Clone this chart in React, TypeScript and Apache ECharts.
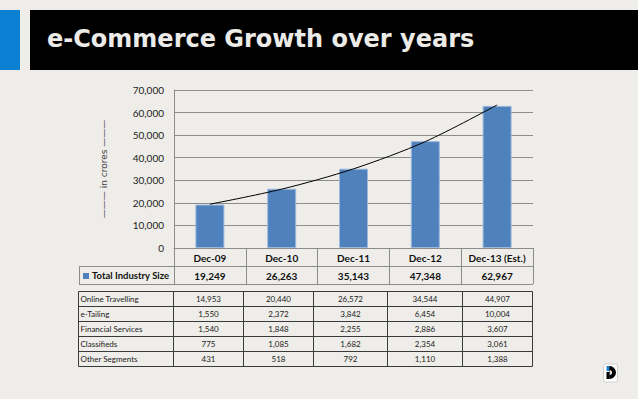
import React, { useEffect, useRef } from "react";
import * as echarts from "echarts";

const categories = ["Dec-09", "Dec-10", "Dec-11", "Dec-12", "Dec-13 (Est.)"];
const totalIndustry = [19249, 26263, 35143, 47348, 62967];
const seriesLabel = "Total Industry Size";
const segmentNames = ["Online Travelling", "e-Tailing", "Financial Services", "Classifieds", "Other Segments"];
const onlineTravelling = [14953, 20440, 26572, 34544, 44907];
const eTailing = [1550, 2372, 3842, 6454, 10004];
const financialServices = [1540, 1848, 2255, 2886, 3607];
const classifieds = [775, 1085, 1682, 2354, 3061];
const otherSegments = [431, 518, 792, 1110, 1388];
const segmentValues = [onlineTravelling, eTailing, financialServices, classifieds, otherSegments];
const yMin = 0;
const yMax = 70000;
const yInterval = 10000;
const titleText = "e-Commerce Growth over years";
const yAxisName = "——— in crores ———";

// exponential trendline fitted to the total industry values (like Excel's trendline)
function expTrend(vals: number[]): number[] {
  const n = vals.length;
  const xs = vals.map((_, i) => i);
  const ls = vals.map((v) => Math.log(v));
  const mx = xs.reduce((a, b) => a + b, 0) / n;
  const ml = ls.reduce((a, b) => a + b, 0) / n;
  let num = 0, den = 0;
  for (let i = 0; i < n; i++) {
    num += (xs[i] - mx) * (ls[i] - ml);
    den += (xs[i] - mx) * (xs[i] - mx);
  }
  const b = num / den;
  const a = ml - b * mx;
  return xs.map((x) => Math.exp(a + b * x));
}

const fmt = (v: number) => v.toLocaleString("en-US");
const FONT = "Lato";

export default function App() {
  const ref = useRef<HTMLDivElement>(null);
  useEffect(() => {
    if (!ref.current) return;
    const chart = echarts.init(ref.current, null, { renderer: "svg" });
    const trend = expTrend(totalIndustry);
    const base: any = {
      animation: false,
      backgroundColor: "#eeede9",
      grid: { left: 174, top: 90, right: 105, bottom: 151, containLabel: false },
      xAxis: {
        type: "category",
        data: categories,
        boundaryGap: true,
        axisLine: { show: true, lineStyle: { color: "#8c8c8c", width: 1 } },
        axisTick: { show: true, length: 36, lineStyle: { color: "#8c8c8c", width: 1 } },
        axisLabel: { margin: 5, color: "#111", fontFamily: FONT, fontWeight: "bold", fontSize: 10, interval: 0 },
      },
      yAxis: {
        type: "value",
        min: yMin,
        max: yMax,
        interval: yInterval,
        name: yAxisName,
        nameLocation: "middle",
        nameGap: 66,
        nameTextStyle: { color: "#444", fontFamily: "DejaVu Sans", fontSize: 9 },
        axisLine: { show: true, lineStyle: { color: "#8c8c8c", width: 1 } },
        axisTick: { show: false },
        axisLabel: { margin: 10, color: "#222", fontFamily: FONT, fontSize: 10, formatter: (v: number) => fmt(v) },
        splitLine: { show: true, lineStyle: { color: "#8c8c8c", width: 1 } },
      },
      series: [
        {
          type: "bar",
          data: totalIndustry,
          barWidth: 29,
          itemStyle: { color: "#4f81bd", borderColor: "#9db8dc", borderWidth: 1 },
          z: 2,
        },
        {
          type: "line",
          data: trend,
          smooth: 0.3,
          showSymbol: false,
          symbol: "none",
          lineStyle: { color: "#000", width: 1 },
          z: 3,
        },
      ],
    };
    chart.setOption(base);

    const xc = categories.map((_, i) => chart.convertToPixel({ xAxisIndex: 0 }, i) as number);
    const rightPlot = 533;
    const g: any[] = [];
    // header band
    g.push({ type: "rect", shape: { x: 0, y: 10, width: 20, height: 60 }, style: { fill: "#0b7fd1" } });
    g.push({ type: "rect", shape: { x: 30, y: 10, width: 608, height: 60 }, style: { fill: "#000" } });
    g.push({
      type: "text",
      x: 47,
      y: 39,
      style: { text: titleText, fill: "#ecebe8", font: `600 24px "DejaVu Sans"`, textVerticalAlign: "middle", textAlign: "left" },
    });
    // Total industry row
    const r2t = 266.5, r2b = 284.5;
    g.push({ type: "line", shape: { x1: 79, y1: r2t, x2: rightPlot, y2: r2t }, style: { stroke: "#8c8c8c", lineWidth: 1 } });
    g.push({ type: "line", shape: { x1: 79, y1: r2b, x2: rightPlot, y2: r2b }, style: { stroke: "#8c8c8c", lineWidth: 1 } });
    g.push({ type: "line", shape: { x1: 79.5, y1: r2t, x2: 79.5, y2: r2b }, style: { stroke: "#8c8c8c", lineWidth: 1 } });
    g.push({ type: "rect", shape: { x: 83, y: 273, width: 6, height: 6 }, style: { fill: "#4f81bd" } });
    g.push({
      type: "text", x: 92, y: (r2t + r2b) / 2,
      style: { text: seriesLabel, fill: "#111", font: `bold 9.5px ${FONT}`, textVerticalAlign: "middle", textAlign: "left" },
    });
    totalIndustry.forEach((v, i) => {
      g.push({
        type: "text", x: xc[i], y: (r2t + r2b) / 2 + 0.5,
        style: { text: fmt(v), fill: "#111", font: `bold 10px ${FONT}`, textVerticalAlign: "middle", textAlign: "center" },
      });
    });
    // segment table
    const edges = [78.5, 173.5, 243.5, 313.5, 387.5, 462.5, 532.5];
    const top = 291.5, rh = 15;
    const nRows = segmentNames.length;
    const lc = "#3a3a3a";
    for (let r = 0; r <= nRows; r++) {
      g.push({ type: "line", shape: { x1: edges[0], y1: top + r * rh, x2: edges[edges.length - 1], y2: top + r * rh }, style: { stroke: lc, lineWidth: 1 } });
    }
    edges.forEach((x) => {
      g.push({ type: "line", shape: { x1: x, y1: top, x2: x, y2: top + nRows * rh }, style: { stroke: lc, lineWidth: 1 } });
    });
    segmentNames.forEach((name, r) => {
      const cy = top + r * rh + rh / 2;
      g.push({
        type: "text", x: edges[0] + 2, y: cy,
        style: { text: name, fill: "#222", font: `8px ${FONT}`, textVerticalAlign: "middle", textAlign: "left" },
      });
      segmentValues[r].forEach((v, c) => {
        g.push({
          type: "text", x: (edges[c + 1] + edges[c + 2]) / 2, y: cy,
          style: { text: fmt(v), fill: "#222", font: `8px ${FONT}`, textVerticalAlign: "middle", textAlign: "center" },
        });
      });
    });
    // logo
    g.push({ type: "rect", shape: { x: 603.5, y: 364, width: 14, height: 18, r: 2 }, style: { fill: "#fff", stroke: "#d0d0d0", lineWidth: 1 } });
    g.push({ type: "rect", shape: { x: 606.5, y: 366, width: 3, height: 5 }, style: { fill: "#1a86d6" } });
    g.push({ type: "rect", shape: { x: 606.5, y: 372, width: 3, height: 7 }, style: { fill: "#000" } });
    g.push({
      type: "sector",
      shape: { cx: 609.5, cy: 372.5, r: 6.5, r0: 2.5, startAngle: -Math.PI / 2, endAngle: Math.PI / 2, clockwise: true },
      style: { fill: "#000" },
    });
    g.push({ type: "rect", shape: { x: 609.5, y: 366, width: 0.6, height: 13 }, style: { fill: "#000" } });

    chart.setOption({ graphic: g });
    return () => chart.dispose();
  }, []);
  return <div ref={ref} style={{ position: "fixed", left: 0, top: 0, width: 638, height: 399 }} />;
}
